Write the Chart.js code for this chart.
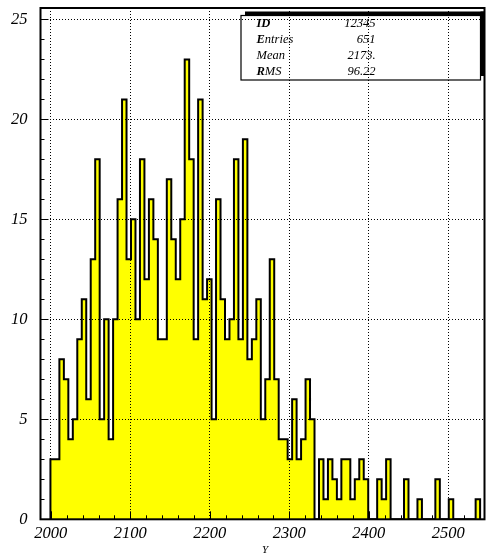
<!DOCTYPE html>
<html>
<head>
<meta charset="utf-8">
<script src="https://cdn.jsdelivr.net/npm/chart.js@4/dist/chart.umd.min.js"></script>
<style>
  html, body { margin: 0; padding: 0; background: #fff; }
  canvas { display: block; }
</style>
</head>
<body>
<canvas id="c" width="486" height="558"></canvas>
<script>
// ---- data ----
const binStart = 1999.5;      // left edge of first bin
const binWidth = 5.63;        // bin width in Y units
const counts = [
  3, 3, 8, 7, 4, 5, 9, 11, 6, 13,
  18, 5, 10, 4, 10, 16, 21, 13, 15, 10,
  18, 12, 16, 14, 9, 9, 17, 14, 12, 15,
  23, 18, 9, 21, 11, 12, 5, 16, 11, 9,
  10, 18, 9, 19, 8, 9, 11, 5, 7, 13,
  7, 4, 4, 3, 6, 3, 4, 7, 5, 0,
  3, 1, 3, 2, 1, 3, 3, 1, 2, 3,
  2, 0, 0, 2, 1, 3, 0, 0, 0, 2,
  0, 0, 1, 0, 0, 0, 2, 0, 0, 1,
  0, 0, 0, 0, 0, 1
];
const xMin = 1987, xMax = 2545.5;
const yMin = 0, yMax = 25.57;
const xMajorTicks = [2000, 2100, 2200, 2300, 2400, 2500];
const xMinorStep = 20;
const yMajorTicks = [0, 5, 10, 15, 20, 25];
const yMinorStep = 1;
const statLabels = ['ID', 'Entries', 'Mean', 'RMS'];
const statBold = ['ID', 'E', '', 'R'];
const statValues = ['12345', '651', '2173.', '96.22'];
const xTitle = 'Y';

// ---- build histogram outline points from bin edges ----
const pts = [{x: binStart, y: 0}];
counts.forEach((c, i) => {
  const l = binStart + i * binWidth;
  pts.push({x: l, y: c}, {x: l + binWidth, y: c});
});
pts.push({x: binStart + counts.length * binWidth, y: 0});

const xTicks = [];
for (let v = xMajorTicks[0]; v <= xMax; v += xMinorStep) xTicks.push(v);
const yTicks = [];
for (let v = yMajorTicks[0]; v <= yMax; v += yMinorStep) yTicks.push(v);

const serif = '"Liberation Serif", "DejaVu Serif", serif';

function zeroPad(s) {
  s.paddingTop = 0; s.paddingBottom = 0; s.paddingLeft = 0; s.paddingRight = 0;
}

const decor = {
  id: 'decor',
  afterDraw(chart) {
    const ctx = chart.ctx;
    const a = chart.chartArea;
    const xs = chart.scales.x, ys = chart.scales.y;
    ctx.save();
    // inward tick marks
    ctx.strokeStyle = '#000';
    ctx.lineWidth = 1;
    ctx.beginPath();
    xTicks.forEach(v => {
      const px = Math.round(xs.getPixelForValue(v)) + 0.5;
      const len = xMajorTicks.includes(v) ? 8 : 4;
      ctx.moveTo(px, a.bottom);
      ctx.lineTo(px, a.bottom - len);
    });
    yTicks.forEach(v => {
      const py = Math.round(ys.getPixelForValue(v)) + 0.5;
      const len = yMajorTicks.includes(v) ? 8 : 4;
      ctx.moveTo(a.left, py);
      ctx.lineTo(a.left + len, py);
    });
    ctx.stroke();
    // frame
    ctx.lineWidth = 2;
    ctx.strokeRect(a.left, a.top, a.right - a.left, a.bottom - a.top);

    // stats box with shadow (top-right)
    const bx = 241, by = 15.5, bw = 239.5, bh = 64.5, sh = 4;
    ctx.fillStyle = '#000';
    ctx.fillRect(bx + sh, by - sh, bw, sh);
    ctx.fillRect(bx + bw, by - sh, sh, bh);
    ctx.lineWidth = 1.2;
    ctx.strokeRect(bx, by, bw, bh);
    ctx.textBaseline = 'middle';
    statLabels.forEach((lab, i) => {
      const yy = by + 8.5 + i * 16;
      let x0 = 256.5;
      const b = statBold[i];
      ctx.textAlign = 'left';
      if (b) {
        ctx.font = 'italic bold 12.5px ' + serif;
        ctx.fillText(b, x0, yy);
        x0 += ctx.measureText(b).width;
      }
      ctx.font = 'italic 12.5px ' + serif;
      ctx.fillText(lab.slice(b.length), x0, yy);
      ctx.textAlign = 'right';
      ctx.fillText(statValues[i], 375.5, yy);
    });
    // x axis title
    ctx.font = 'italic 11px ' + serif;
    ctx.textAlign = 'center';
    ctx.fillText(xTitle, 265, 550);
    ctx.restore();
  }
};

new Chart(document.getElementById('c'), {
  type: 'line',
  data: {
    datasets: [{
      data: pts,
      borderColor: '#000',
      borderWidth: 2,
      backgroundColor: '#ffff00',
      fill: 'origin',
      pointRadius: 0,
      tension: 0,
      borderJoinStyle: 'miter'
    }]
  },
  options: {
    responsive: false,
    animation: false,
    devicePixelRatio: 1,
    layout: { padding: { left: 0, right: 1.5, top: 8, bottom: 0 } },
    plugins: { legend: { display: false }, tooltip: { enabled: false } },
    scales: {
      x: {
        type: 'linear', min: xMin, max: xMax,
        afterBuildTicks: s => { s.ticks = xTicks.map(v => ({ value: v })); },
        afterFit: s => { s.height = 558 - 519.3; zeroPad(s); },
        ticks: {
          autoSkip: false, maxRotation: 0, padding: 4, color: '#000',
          font: { family: serif, size: 16.5, style: 'italic' },
          callback: v => xMajorTicks.includes(v) ? String(v) : ''
        },
        grid: {
          z: 1, drawTicks: false, lineWidth: 1,
          color: c => (c.tick && xMajorTicks.includes(c.tick.value)) ? '#000' : 'rgba(0,0,0,0)'
        },
        border: { display: false, dash: [1, 2] }
      },
      y: {
        type: 'linear', min: yMin, max: yMax,
        afterBuildTicks: s => { s.ticks = yTicks.map(v => ({ value: v })); },
        afterFit: s => { s.width = 40.5; zeroPad(s); },
        ticks: {
          autoSkip: false, padding: 13, color: '#000',
          font: { family: serif, size: 16.5, style: 'italic' },
          callback: v => yMajorTicks.includes(v) ? String(v) : ''
        },
        grid: {
          z: 1, drawTicks: false, lineWidth: 1,
          color: c => (c.tick && yMajorTicks.includes(c.tick.value) && c.tick.value > 0) ? '#000' : 'rgba(0,0,0,0)'
        },
        border: { display: false, dash: [1, 2] }
      }
    }
  },
  plugins: [decor]
});
</script>
</body>
</html>
